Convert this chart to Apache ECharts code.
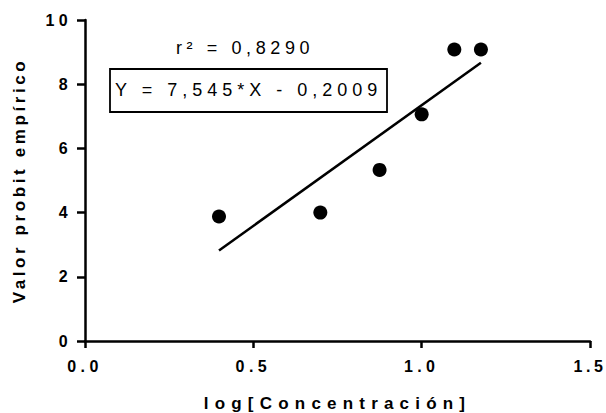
<!DOCTYPE html>
<html><head><meta charset="utf-8">
<script src="https://cdn.jsdelivr.net/npm/echarts@6/dist/echarts.min.js"></script>
<style>html,body{margin:0;padding:0;background:#fff}#c{width:606px;height:413px}</style>
</head><body><div id="c"></div>
<script>
// data
const pointsX = [0.398, 0.699, 0.875, 1.0, 1.097, 1.176];
const pointsY = [3.88, 4.0, 5.33, 7.06, 9.08, 9.08];
const fitX = [0.398, 1.176];
const fitY = [2.82, 8.67];
const xTicks = ['0.0', '0.5', '1.0', '1.5'];
const yTicks = ['0', '2', '4', '6', '8', '10'];
const xTitle = 'log[Concentración]';
const yTitle = 'Valor probit empírico';
const r2Text = 'r² = 0,8290';
const eqText = 'Y = 7,545*X - 0,2009';

const FONT = 'Liberation Sans, Arial, sans-serif';
const chart = echarts.init(document.getElementById('c'), null, {renderer: 'svg'});
chart.setOption({
  animation: false,
  backgroundColor: '#fff',
  grid: {left: 85, right: 16, top: 20, bottom: 72, containLabel: false, outerBoundsMode: 'none'},
  xAxis: {
    type: 'value', min: 0, max: 1.5, interval: 0.5,
    name: xTitle, nameLocation: 'middle', nameGap: 54,
    nameTextStyle: {fontFamily: FONT, fontWeight: 'bold', fontSize: 17, color: '#000'},
    axisLine: {show: true, onZero: false, lineStyle: {color: '#000', width: 2.5}},
    axisTick: {show: true, length: 7, lineStyle: {color: '#000', width: 2.5}},
    axisLabel: {margin: 17, fontFamily: FONT, fontWeight: 'bold', fontSize: 16, color: '#000',
      formatter: (v) => xTicks[Math.round(v / 0.5)]},
    splitLine: {show: false}
  },
  yAxis: {
    type: 'value', min: 0, max: 10, interval: 2,
    name: yTitle, nameLocation: 'middle', nameGap: 57, nameRotate: 90,
    nameTextStyle: {fontFamily: FONT, fontWeight: 'bold', fontSize: 17, color: '#000'},
    axisLine: {show: true, onZero: false, lineStyle: {color: '#000', width: 2.5}},
    axisTick: {show: true, length: 8, lineStyle: {color: '#000', width: 2.5}},
    axisLabel: {margin: 13, fontFamily: FONT, fontWeight: 'bold', fontSize: 16, color: '#000',
      formatter: (v) => yTicks[Math.round(v / 2)]},
    splitLine: {show: false}
  },
  series: [
    {type: 'scatter', data: pointsX.map((x, i) => [x, pointsY[i]]), symbol: 'circle', symbolSize: 14,
     itemStyle: {color: '#000', opacity: 1}, z: 3},
    {type: 'line', data: fitX.map((x, i) => [x, fitY[i]]), showSymbol: false, symbol: 'none',
     lineStyle: {color: '#000', width: 2.5}, z: 2}
  ],
  graphic: [
    {type: 'text', left: 176, top: 39, style: {text: r2Text, font: '18px ' + FONT, fill: '#000'}},
    {type: 'rect', shape: {x: 110, y: 69, width: 277, height: 43}, style: {fill: 'none', stroke: '#000', lineWidth: 1.8}},
    {type: 'text', left: 115, top: 81, style: {text: eqText, font: '18px ' + FONT, fill: '#000'}}
  ]
});

const spacing = {};
xTicks.concat(yTicks).forEach(t => spacing[t] = 4.4);
spacing['1.5'] = 3.6;
spacing[xTitle] = 6.2;
spacing[yTitle] = 3.6;
spacing[r2Text] = 4.6;
spacing[eqText] = 5;
function applySpacing() {
  document.querySelectorAll('#c svg text').forEach(el => {
    const s = spacing[el.textContent];
    if (s !== undefined) el.setAttribute('letter-spacing', s + 'px');
  });
}
applySpacing();
chart.on('finished', applySpacing);
setTimeout(applySpacing, 0);
</script></body></html>
